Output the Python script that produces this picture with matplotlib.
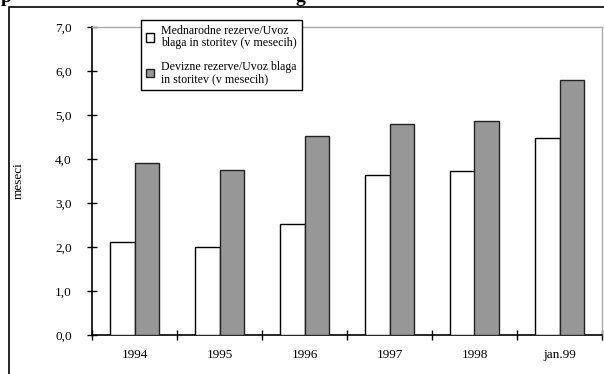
import matplotlib.pyplot as plt
import numpy as np
from matplotlib.patches import Rectangle

plt.rcParams["font.family"] = ["Liberation Serif", "DejaVu Serif"]

years = ["1994", "1995", "1996", "1997", "1998", "jan.99"]
mednarodne = [2.12, 2.01, 2.52, 3.64, 3.73, 4.47]
devizne = [3.92, 3.75, 4.52, 4.80, 4.86, 5.80]
labels = ["Mednarodne rezerve/Uvoz\nblaga in storitev (v mesecih)",
          "Devizne rezerve/Uvoz blaga\nin storitev (v mesecih)"]

W, H = 604, 374
fig = plt.figure(figsize=(W / 100, H / 100), dpi=100)

# outer frame of the original figure box
fig.patches.append(Rectangle((9 / W, -0.1), 1.2, 1 - 7 / H + 0.1,
                             transform=fig.transFigure, fill=False,
                             edgecolor="black", linewidth=1.2))

# clipped title fragments at the very top
fig.text(1 / W, 1 - 1.5 / H, "p", fontsize=14, fontweight="bold", va="baseline")
fig.text(295 / W, 1 - 1.5 / H, "g", fontsize=14, fontweight="bold", va="baseline")

ax = fig.add_axes([92 / W, 1 - 335 / H, 510 / W, 308 / H])

x = np.arange(len(years))
bw = 0.29
ax.bar(x - bw / 2, mednarodne, bw, color="white", edgecolor="black",
       linewidth=1.0, label=labels[0], zorder=3)
ax.bar(x + bw / 2, devizne, bw, color="#979797", edgecolor="#222222",
       linewidth=1.0, label=labels[1], zorder=3)

yt = np.arange(0, 7.01, 1.0)
ax.set_xlim(-0.5, len(years) - 0.5)
ax.set_ylim(0, 7)
ax.set_yticks(yt)
ax.set_yticklabels([f"{v:.1f}".replace(".", ",") for v in yt], fontsize=9.5)
ax.set_xticks(x)
ax.set_xticklabels(years, fontsize=9.5)
ax.tick_params(axis="x", length=0, pad=10)
ax.set_xticks(np.arange(-0.5, len(years)), minor=True)
ax.tick_params(axis="x", which="minor", direction="inout", length=7, width=1)
ax.tick_params(axis="y", direction="inout", length=7, width=1, pad=11)

for s in ["left", "bottom"]:
    ax.spines[s].set_color("black")
    ax.spines[s].set_linewidth(1.2)
for s in ["top", "right"]:
    ax.spines[s].set_color("#aaaaaa")
    ax.spines[s].set_linewidth(1.0)

ax.set_ylabel("meseci", fontsize=9.5, labelpad=22)

leg = ax.legend(loc="upper left", bbox_to_anchor=(49 / 510, 1 + 7 / 308),
                fontsize=8.6, frameon=True, fancybox=False, edgecolor="black",
                handlelength=0.7, handleheight=0.7, handletextpad=0.6,
                labelspacing=0.95, borderpad=0.4, borderaxespad=0,
                framealpha=1)
leg.get_frame().set_linewidth(1.0)
for t in leg.get_texts():
    t.set_linespacing(1.05)
leg.set_zorder(5)

fig.savefig("out.png", dpi=100)
